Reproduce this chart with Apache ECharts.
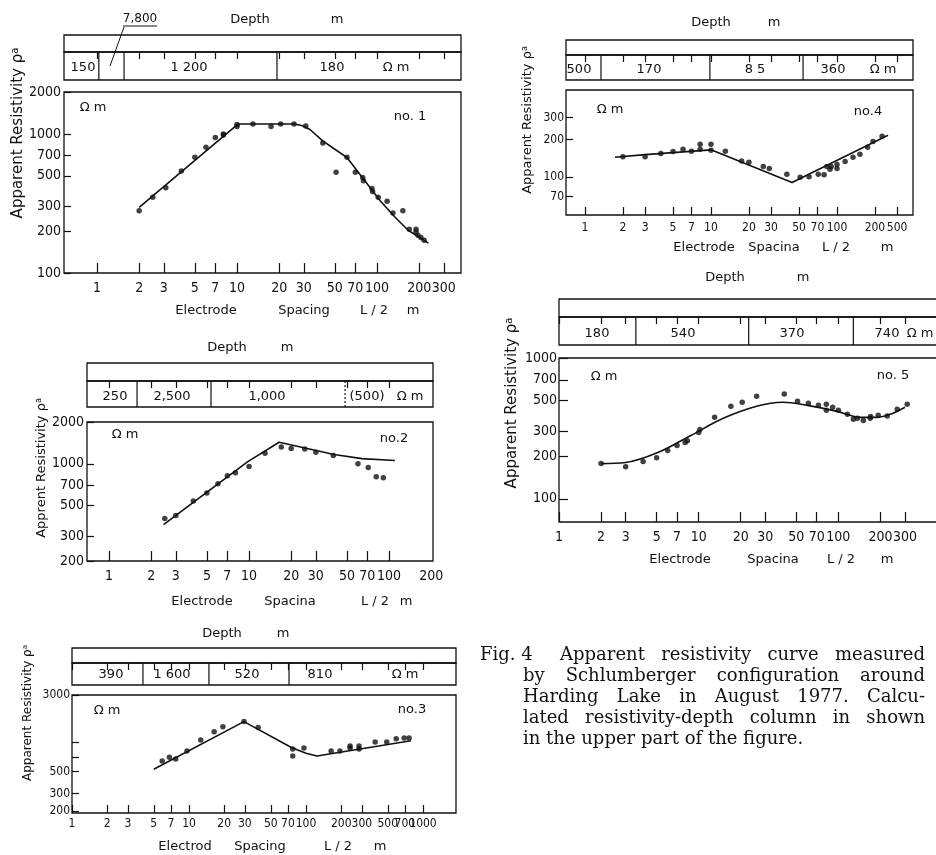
<!DOCTYPE html>
<html><head><meta charset="utf-8">
<script src="https://cdn.jsdelivr.net/npm/echarts@6/dist/echarts.min.js"></script>
<style>html,body{margin:0;padding:0;background:#fff}#c{width:936px;height:855px}</style>
</head><body><div id="c"></div><script>
// ================= DATA =================
// Panel no.1
const xTicks1 = [1,2,3,5,7,10,20,30,50,70,100,200,300];
const xLabels1 = ['1','2','3','5','7','10','20','30','50','70','100','200','300'];
const yTicks1 = [100,200,300,500,700,1000,2000];
const yLabels1 = ['100','200','300','500','700','1000','2000'];
const measured1 = [[2,280],[2.5,350],[3.1,410],[4,540],[5,680],[6,800],[7,940],[8,980],[8,1000],[10,1170],[10,1130],[13,1180],[17.5,1130],[20.5,1180],[25.5,1180],[31,1140],[41,860],[51,530],[61,680],[70,530],[79,485],[80,460],[92,405],[93,385],[102,350],[118,328],[130,270],[153,280],[170,206],[190,206],[190,197],[196,187],[206,180],[217,172]];
const model1 = [[2,296],[10.2,1178],[25.7,1178],[29,1150],[33.2,1075],[40.9,891],[50,775],[60.8,678],[79.8,475],[105,332],[131,259],[167,203],[233,164]];
const layerRes1 = ['150','7,800','1 200','180'];
const layerBounds1 = [1.03,1.56,19.3];

// Panel no.2
const xTicks2 = [1,2,3,5,7,10,20,30,50,70,100,200];
const xLabels2 = ['1','2','3','5','7','10','20','30','50','70','100','200'];
const xTickMarks2 = [1,2,3,5,7,10,20,30,50,70,100];
const yTicks2 = [200,300,500,700,1000,2000];
const yLabels2 = ['200','300','500','700','1000','2000'];
const measured2 = [[2.5,405],[3,425],[4,540],[5,617],[6,718],[7,820],[8,863],[10,955],[13,1190],[17,1320],[20,1290],[25,1280],[30,1210],[40,1150],[60,1000],[71,940],[81,807],[91,795]];
const model2 = [[2.45,366],[9.8,1037],[16.4,1430],[40.5,1167],[64,1090],[110,1057]];
const layerRes2 = ['250','2,500','1,000','(500)'];
const layerBounds2 = [1.585,5.35,48.5];

// Panel no.3
const xTicks3 = [1,2,3,5,7,10,20,30,50,70,100,200,300,500,700,1000];
const xLabels3 = ['1','2','3','5','7','10','20','30','50','70','100','200','300','500','700','1000'];
const yTicks3 = [200,300,500,3000];
const yLabels3 = ['200','300','500','3000'];
const yTickMarks3 = [200,300,500,700,1000,3000];
const measured3 = [[5.9,640],[6.8,700],[7.7,670],[9.6,810],[12.6,1050],[16.4,1270],[19.5,1430],[29.5,1610],[39,1400],[77,850],[77,720],[96,870],[164,810],[195,810],[238,910],[238,870],[284,910],[284,850],[390,1000],[490,1000],[590,1080],[690,1100],[760,1100]];
const model3 = [[5,528],[29.5,1610],[75,880],[100,770],[124,720],[789,1030]];
const layerRes3 = ['390','1 600','520','810'];
const layerBounds3 = [4.04,14.8,71.6];

// Panel no.4
const xTicks4 = [1,2,3,5,7,10,20,30,50,70,100,200,300];
const xLabels4 = ['1','2','3','5','7','10','20','30','50','70','100','200','500'];
const yTicks4 = [70,100,200,300];
const yLabels4 = ['70','100','200','300'];
const measured4 = [[2,146],[3,146],[4,155],[5,161],[6,168],[7,162],[8.2,184],[8.2,168],[10,184],[10,165],[13,162],[17.5,135],[20,132],[26,122],[29,118],[40,106],[51,100],[60,101],[71,106],[79,105],[83,122],[88,116],[90,122],[100,127],[100,118],[116,134],[134,145],[152,153],[175,174],[193,194],[228,213]];
const model4 = [[1.73,145],[3,152],[10,166],[44,91],[254,217]];
const layerRes4 = ['500','170','8 5','360'];
const layerBounds4 = [1.34,9.8,53.8];

// Panel no.5
const xTicks5 = [1,2,3,5,7,10,20,30,50,70,100,200,300];
const xLabels5 = ['1','2','3','5','7','10','20','30','50','70','100','200','300'];
const yTicks5 = [100,200,300,500,700,1000];
const yLabels5 = ['100','200','300','500','700','1000'];
const measured5 = [[2,178],[3,169],[4,184],[5,196],[6,220],[7,239],[8,251],[8.3,259],[10,296],[10.2,311],[13,380],[17,455],[20.5,485],[26,535],[41,555],[51,493],[61,477],[72,462],[82,470],[82,426],[91,447],[100,426],[116,398],[128,368],[137,373],[151,360],[169,373],[170,385],[193,392],[224,387],[264,433],[311,469]];
const model5 = [[2,178],[3,181],[5.1,213],[8.8,282],[15,373],[26,454],[40,485],[60,461],[98,418],[121,392],[143,379],[190,379],[235,398],[300,447]];
const layerRes5 = ['180','540','370','740'];
const layerBounds5 = [3.55,22.8,128];

const captionLines = [
  'Apparent resistivity curve measured',
  'by Schlumberger configuration around',
  'Harding Lake in August 1977.  Calcu-',
  'lated resistivity-depth column in shown',
  'in the upper part of the figure.'
];

// ================= LAYOUT =================
const SANS = "'DejaVu Sans', sans-serif";
const COND = "'DejaVu Sans Condensed', 'Liberation Sans Narrow', 'DejaVu Sans', sans-serif";
const SERIF = "'DejaVu Serif', serif";

const panels = [
  { D:{xTicks:xTicks1,xLabels:xLabels1,xTickMarks:xTicks1,yTicks:yTicks1,yLabels:yLabels1,yTickMarks:yTicks1,measured:measured1,model:model1,layerRes:layerRes1,layerBounds:layerBounds1},
    C:{plot:{l:64,t:92,r:461,b:273},strip:{t:35,m:52,b:80},xr:[0.581,398],yr:[100,2000],
       xTickLen:10,yTickLen:7,tickFont:14,xLabelMargin:8,yLabelMargin:3,smooth:false,dashed:-1,altLabels:[],
       labelY:68,labelX:[83,null,189,332],unitX:396,depth:[250,337,20],
       xTitleY:311,xTitleX:[206,304,374,413],xWords:['Electrode','Spacing','L / 2','m'],
       yTitle:[18,133,15],yWord:'Apparent Resistivity',ohm:[93,108],no:[410,117],noText:'no. 1'} },
  { D:{xTicks:xTicks2,xLabels:xLabels2,xTickMarks:xTickMarks2,yTicks:yTicks2,yLabels:yLabels2,yTickMarks:yTicks2,measured:measured2,model:model2,layerRes:layerRes2,layerBounds:layerBounds2},
    C:{plot:{l:87,t:422,r:433,b:561},strip:{t:363,m:381,b:407},xr:[0.696,206],yr:[200,2000],
       xTickLen:10,yTickLen:7,tickFont:14,xLabelMargin:8,yLabelMargin:3,smooth:false,dashed:2,altLabels:[],
       labelY:397,labelX:[115,172,267,367],unitX:410,depth:[227,287,348],
       xTitleY:602,xTitleX:[202,290,375,406],xWords:['Electrode','Spacina','L / 2','m'],
       yTitle:[42,468,13],yWord:'Apprent Resistivity',ohm:[125,435],no:[394,439],noText:'no.2'} },
  { D:{xTicks:xTicks3,xLabels:xLabels3,xTickMarks:xTicks3,yTicks:yTicks3,yLabels:yLabels3,yTickMarks:yTickMarks3,measured:measured3,model:model3,layerRes:layerRes3,layerBounds:layerBounds3},
    C:{plot:{l:72,t:695,r:456,b:813},strip:{t:648,m:663,b:685},xr:[1,1914],yr:[190,3000],
       xTickLen:8,yTickLen:7,tickFont:12,xLabelMargin:5,yLabelMargin:2,smooth:false,dashed:-1,altLabels:[700],
       labelY:675,labelX:[111,172,247,320],unitX:405,depth:[222,283,634],
       xTitleY:847,xTitleX:[185,260,338,380],xWords:['Electrod','Spacing','L / 2','m'],
       yTitle:[28,713,12],yWord:'Apparent Resistivity',ohm:[107,711],no:[412,710],noText:'no.3'} },
  { D:{xTicks:xTicks4,xLabels:xLabels4,xTickMarks:xTicks4,yTicks:yTicks4,yLabels:yLabels4,yTickMarks:yTicks4,measured:measured4,model:model4,layerRes:layerRes4,layerBounds:layerBounds4},
    C:{plot:{l:566,t:90,r:913,b:215},strip:{t:40,m:55,b:80},xr:[0.707,401],yr:[50,500],
       xTickLen:8,yTickLen:7,tickFont:12,xLabelMargin:7,yLabelMargin:2,smooth:false,dashed:-1,altLabels:[],
       labelY:70,labelX:[579,649,755,833],unitX:883,depth:[711,774,23],
       xTitleY:248,xTitleX:[704,774,836,887],xWords:['Electrode','Spacina','L / 2','m'],
       yTitle:[528,120,13],yWord:'Apparent Resistivity',ohm:[610,110],no:[868,112],noText:'no.4'} },
  { D:{xTicks:xTicks5,xLabels:xLabels5,xTickMarks:xTicks5,yTicks:yTicks5,yLabels:yLabels5,yTickMarks:yTicks5,measured:measured5,model:model5,layerRes:layerRes5,layerBounds:layerBounds5},
    C:{plot:{l:559,t:358,r:945,b:522},strip:{t:299,m:317,b:345},xr:[1,580],yr:[68.5,1000],
       xTickLen:10,yTickLen:9,tickFont:14,xLabelMargin:8,yLabelMargin:2,smooth:0.35,dashed:-1,altLabels:[],
       labelY:334,labelX:[597,683,792,887],unitX:920,depth:[725,803,278],
       xTitleY:560,xTitleX:[680,773,841,887],xWords:['Electrode','Spacina','L / 2','m'],
       yTitle:[512,403,15],yWord:'Apparent Resistivity',ohm:[604,377],no:[893,376],noText:'no. 5'} }
];

// ================= BUILD =================
const grids=[], xAxes=[], yAxes=[], series=[], graphics=[];
function near(v, arr){ const lv=Math.log10(v); for(let i=0;i<arr.length;i++){ if(Math.abs(Math.log10(arr[i])-lv)<1e-5) return i; } return -1; }
function txt(x,y,t,o){
  o=o||{};
  const font = o.font || ((o.size||13)+'px '+SANS);
  const st = {text:t, fill:'#111', font:font, textAlign:o.align||'center', textVerticalAlign:o.valign||'middle', align:o.align||'center', verticalAlign:o.valign||'middle'};
  if(o.rich) st.rich=o.rich;
  const el={type:'text', x:x, y:y, style:st, silent:true, z:10};
  if(o.rotation) el.rotation=o.rotation;
  graphics.push(el);
}
function seg(x1,y1,x2,y2,w){ graphics.push({type:'line', shape:{x1,y1,x2,y2}, style:{stroke:'#111', lineWidth:w||1.1}, silent:true, z:10}); }

const extra=[];
panels.forEach((P,k)=>{
  const D=P.D, C=P.C;
  const gP=3*k, gU=3*k+1, gL=3*k+2;
  const w=C.plot.r-C.plot.l, h=C.plot.b-C.plot.t;
  const gb={show:true, borderColor:'#111', borderWidth:1.3, backgroundColor:'rgba(0,0,0,0)', containLabel:false, outerBoundsMode:'none'};
  grids[gP]=Object.assign({},gb,{left:C.plot.l, top:C.plot.t, width:w, height:h});
  grids[gU]=Object.assign({},gb,{left:C.plot.l, top:C.strip.t, width:w, height:C.strip.m-C.strip.t});
  grids[gL]=Object.assign({},gb,{left:C.plot.l, top:C.strip.m, width:w, height:C.strip.b-C.strip.m});
  const xr=[C.xr[0]*0.9999, C.xr[1]*1.0001], yr=[C.yr[0]*0.9999, C.yr[1]*1.0001];
  const tickStyle={color:'#111', width:1.2};
  const fmtX=(v)=>D.xLabels[near(v,D.xTicks)];
  const mainXLabels=D.xTicks.filter(t=>C.altLabels.indexOf(t)<0);
  const xLabelCommon={show:true, formatter:fmtX, margin:C.xLabelMargin, color:'#111', fontSize:C.tickFont, fontFamily:COND, hideOverlap:false, showMinLabel:true, showMaxLabel:true};
  xAxes[gP]={type:'log', logBase:10, gridIndex:gP, min:xr[0], max:xr[1], position:'bottom',
    axisLine:{show:false}, splitLine:{show:false}, minorTick:{show:false}, minorSplitLine:{show:false},
    axisTick:{show:true, inside:true, length:C.xTickLen, lineStyle:tickStyle, customValues:D.xTickMarks},
    axisLabel:Object.assign({customValues:mainXLabels}, xLabelCommon)};
  yAxes[gP]={type:'log', logBase:10, gridIndex:gP, min:yr[0], max:yr[1], position:'left',
    axisLine:{show:false}, splitLine:{show:false}, minorTick:{show:false}, minorSplitLine:{show:false},
    axisTick:{show:true, inside:true, length:C.yTickLen, lineStyle:tickStyle, customValues:D.yTickMarks},
    axisLabel:{show:true, customValues:D.yTicks, formatter:(v)=>D.yLabels[near(v,D.yTicks)], margin:C.yLabelMargin, color:'#111', fontSize:C.tickFont, fontFamily:COND, hideOverlap:false, showMinLabel:true, showMaxLabel:true}};
  xAxes[gU]={type:'log', logBase:10, gridIndex:gU, min:xr[0], max:xr[1], position:'top',
    axisLine:{show:false}, splitLine:{show:false}, minorTick:{show:false},
    axisTick:{show:true, inside:true, length:7, lineStyle:tickStyle, customValues:D.xTickMarks},
    axisLabel:{show:false}};
  yAxes[gU]={type:'value', gridIndex:gU, min:0, max:1, show:false};
  xAxes[gL]={type:'log', logBase:10, gridIndex:gL, min:xr[0], max:xr[1], show:false};
  yAxes[gL]={type:'value', gridIndex:gL, min:0, max:1, show:false};
  if(C.altLabels.length){
    // second label row on an identical overlay grid (same scale), so crowded labels are not dropped
    extra.push({
      grid:{show:false, containLabel:false, outerBoundsMode:'none', left:C.plot.l, top:C.plot.t, width:w, height:h},
      x:{type:'log', logBase:10, min:xr[0], max:xr[1], position:'bottom', axisLine:{show:false}, splitLine:{show:false}, minorTick:{show:false}, axisTick:{show:false},
         axisLabel:Object.assign({customValues:C.altLabels}, xLabelCommon)},
      y:{type:'value', min:0, max:1, show:false}
    });
  }

  series.push({type:'line', xAxisIndex:gP, yAxisIndex:gP, data:D.model, symbol:'none', showSymbol:false, smooth:C.smooth, lineStyle:{color:'#111', width:1.6}, silent:true, z:2});
  series.push({type:'scatter', xAxisIndex:gP, yAxisIndex:gP, data:D.measured, symbol:'circle', symbolSize:5.5, itemStyle:{color:'#111'}, silent:true, z:3});
  series.push({type:'custom', xAxisIndex:gL, yAxisIndex:gL, silent:true,
    data:D.layerBounds.map((b,i)=>[b,0,i]), encode:{x:0,y:1},
    renderItem:(params,api)=>{
      const x=api.value(0), i=api.value(2);
      const a=api.coord([x,0]), b=api.coord([x,1]);
      return {type:'line', shape:{x1:a[0],y1:a[1],x2:b[0],y2:b[1]}, style:{stroke:'#111', lineWidth:1.2, lineDash:(i===C.dashed)?[2,2]:null}};
    }});

  // texts
  D.layerRes.forEach((r,i)=>{ if(C.labelX[i]!=null) txt(C.labelX[i], C.labelY, r, {size:13}); });
  txt(C.unitX, C.labelY, 'Ω m', {size:13});
  txt(C.depth[0], C.depth[2], 'Depth', {size:13});
  txt(C.depth[1], C.depth[2], 'm', {size:13});
  C.xWords.forEach((wd,i)=> txt(C.xTitleX[i], C.xTitleY, wd, {size:13}));
  const ys=C.yTitle[2];
  txt(C.yTitle[0], C.yTitle[1], C.yWord+' {r|ρ}{s|a}', {size:ys, rotation:Math.PI/2,
      rich:{r:{font:(ys)+'px '+SANS, fill:'#111'}, s:{font:(ys-5)+'px '+SANS, fill:'#111', padding:[0,0,6,0]}}});
  txt(C.ohm[0], C.ohm[1], 'Ω m', {size:13});
  txt(C.no[0], C.no[1], C.noText, {size:13});
});
extra.forEach(e=>{
  const gi=grids.length;
  grids.push(e.grid);
  xAxes.push(Object.assign({gridIndex:gi}, e.x));
  yAxes.push(Object.assign({gridIndex:gi}, e.y));
});

// 7,800 label with leader (panel no.1, second layer)
txt(140, 19, layerRes1[1], {size:12});
seg(123,26,157,26,1);
seg(124,27,110,66,1);

// Caption (justified)
const capFont = '18px '+SERIF;
const mctx=document.createElement('canvas').getContext('2d'); mctx.font=capFont;
txt(480, 655, 'Fig. 4', {font:capFont, align:'left'});
const capStart=[560,523,523,523,523], capY=[655,676,697,718,739], capRight=925;
captionLines.forEach((line,li)=>{
  if(li===captionLines.length-1){ txt(capStart[li], capY[li], line, {font:capFont, align:'left'}); return; }
  const words=line.split(/\s+/);
  const ws=words.map(w=>mctx.measureText(w).width);
  const tot=ws.reduce((a,b)=>a+b,0);
  const gap=(capRight-capStart[li]-tot)/(words.length-1);
  let x=capStart[li];
  words.forEach((w,i)=>{ txt(x, capY[li], w, {font:capFont, align:'left'}); x+=ws[i]+gap; });
});

const chart=echarts.init(document.getElementById('c'), null, {renderer:'canvas', width:936, height:855});
chart.setOption({animation:false, backgroundColor:'#fff', grid:grids, xAxis:xAxes, yAxis:yAxes, series:series, graphic:{elements:graphics}});
</script></body></html>
